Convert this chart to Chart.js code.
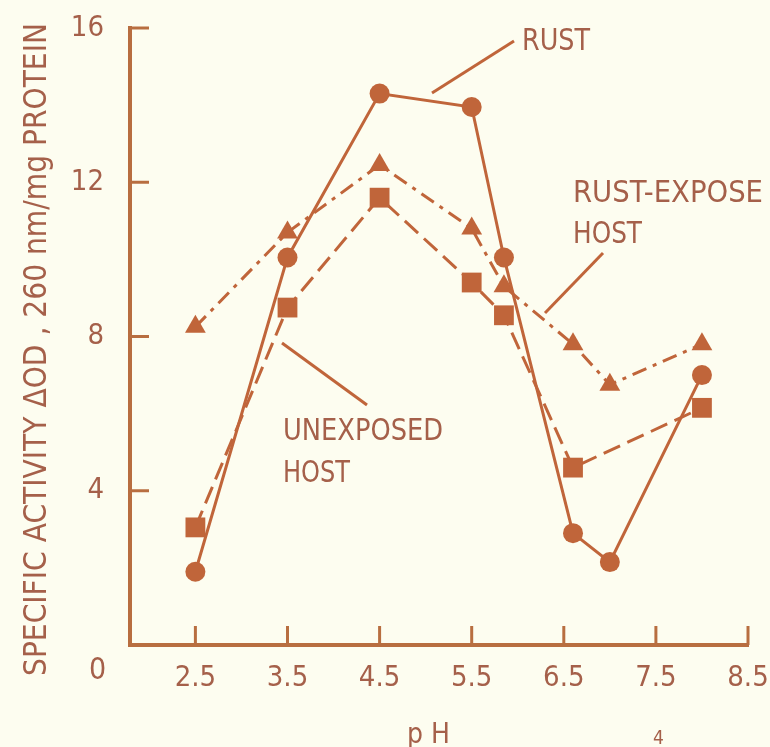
<!DOCTYPE html>
<html>
<head>
<meta charset="utf-8">
<script src="https://cdn.jsdelivr.net/npm/chart.js@4.4.1/dist/chart.umd.min.js"></script>
<style>
  html, body { margin: 0; padding: 0; background: #fdfdf0; }
  #chart { display: block; }
</style>
</head>
<body>
<canvas id="chart" width="770" height="747"></canvas>
<script>
// valeurs
const phTicks = [2.5, 3.5, 4.5, 5.5, 6.5, 7.5, 8.5];
const activityTicks = [0, 4, 8, 12, 16];

const rustPH = [2.5, 3.5, 4.5, 5.5, 5.85, 6.6, 7.0, 8.0];
const rustActivity = [1.9, 10.05, 14.3, 13.95, 10.05, 2.9, 2.15, 7.0];

const exposedPH = [2.5, 3.5, 4.5, 5.5, 5.85, 6.6, 7.0, 8.0];
const exposedActivity = [8.25, 10.7, 12.45, 10.8, 9.3, 7.8, 6.75, 7.8];

const unexposedPH = [2.5, 3.5, 4.5, 5.5, 5.85, 6.6, 8.0];
const unexposedActivity = [3.05, 8.75, 11.6, 9.4, 8.55, 4.6, 6.15];

const INK = "#c0653a";
const AXIS = "#b86e40";
const TEXT = "#a5604a";
const BG = "#fdfdf0";
const FONT = "'Liberation Sans Narrow', 'DejaVu Sans Condensed', 'Open Sans', sans-serif";

function toPoints(xs, ys) {
  return xs.map((x, i) => ({ x: x, y: ys[i] }));
}

// texte étiré / espacé pour tenir dans une largeur donnée
function fitText(ctx, text, x, y, width, size) {
  ctx.save();
  ctx.font = size + "px " + FONT;
  ctx.fillStyle = TEXT;
  ctx.textAlign = "left";
  ctx.textBaseline = "alphabetic";
  const natural = ctx.measureText(text).width;
  const gap = text.length > 1 ? (width - natural) / (text.length - 1) : 0;
  if (gap >= 0 && "letterSpacing" in ctx) {
    ctx.letterSpacing = gap + "px";
    ctx.fillText(text, x, y);
  } else {
    ctx.translate(x, y);
    ctx.scale(width / natural, 1);
    ctx.fillText(text, 0, 0);
  }
  ctx.restore();
}

function line(ctx, x1, y1, x2, y2) {
  ctx.beginPath();
  ctx.moveTo(x1, y1);
  ctx.lineTo(x2, y2);
  ctx.stroke();
}

const decorPlugin = {
  id: "decor",
  beforeDraw(chart) {
    const ctx = chart.ctx;
    ctx.save();
    ctx.fillStyle = BG;
    ctx.fillRect(0, 0, chart.width, chart.height);
    ctx.restore();
  },
  beforeDatasetsDraw(chart) {
    const ctx = chart.ctx;
    const xs = chart.scales.x;
    const ys = chart.scales.y;
    const area = chart.chartArea;
    ctx.save();
    ctx.strokeStyle = AXIS;
    ctx.lineWidth = 3;
    // graduations vers l'intérieur
    activityTicks.forEach((v) => {
      if (v === 0) return;
      const py = ys.getPixelForValue(v);
      line(ctx, area.left, py, area.left + 19, py);
    });
    phTicks.forEach((v) => {
      const px = xs.getPixelForValue(v);
      line(ctx, px, area.bottom, px, area.bottom - 19);
    });
    ctx.restore();
  },
  afterDraw(chart) {
    const ctx = chart.ctx;
    ctx.save();
    // traits de renvoi
    ctx.strokeStyle = INK;
    ctx.lineWidth = 3;
    line(ctx, 514, 41, 432, 93);
    line(ctx, 603, 253, 545, 313);
    line(ctx, 282, 343, 367, 405);
    ctx.restore();

    fitText(ctx, "RUST", 522, 50, 68, 31);
    fitText(ctx, "RUST-EXPOSE", 573, 202, 190, 31);
    fitText(ctx, "HOST", 573, 243, 69, 31);
    fitText(ctx, "UNEXPOSED", 283, 440, 160, 31);
    fitText(ctx, "HOST", 283, 482, 67, 31);
    fitText(ctx, "p H", 407, 743, 43, 28);
    fitText(ctx, "4", 653, 744, 11, 19);
    fitText(ctx, "0", 89, 679, 15, 30);

    // titre de l'axe vertical
    ctx.save();
    ctx.translate(46, 676);
    ctx.rotate(-Math.PI / 2);
    fitText(ctx, "SPECIFIC ACTIVITY \u0394OD , 260 nm/mg PROTEIN", 0, 0, 653, 32);
    ctx.restore();
  },
};

const ctx = document.getElementById("chart").getContext("2d");
new Chart(ctx, {
  type: "line",
  data: {
    datasets: [
      {
        label: "RUST",
        data: toPoints(rustPH, rustActivity),
        borderColor: INK,
        backgroundColor: INK,
        borderWidth: 3,
        pointStyle: "circle",
        pointRadius: 10,
        pointBorderWidth: 0,
        tension: 0,
      },
      {
        label: "RUST-EXPOSE HOST",
        data: toPoints(exposedPH, exposedActivity),
        borderColor: INK,
        backgroundColor: INK,
        borderWidth: 3,
        borderDash: [15, 7, 4, 7],
        pointStyle: "triangle",
        pointRadius: 12,
        pointBorderWidth: 0,
        tension: 0,
      },
      {
        label: "UNEXPOSED HOST",
        data: toPoints(unexposedPH, unexposedActivity),
        borderColor: INK,
        backgroundColor: INK,
        borderWidth: 3,
        borderDash: [18, 8],
        pointStyle: "rect",
        pointRadius: 14,
        pointBorderWidth: 0,
        tension: 0,
      },
    ],
  },
  options: {
    responsive: false,
    animation: false,
    layout: { autoPadding: false, padding: { top: 28, right: 22, left: 0, bottom: 0 } },
    plugins: {
      legend: { display: false },
      tooltip: { enabled: false },
    },
    scales: {
      x: {
        type: "linear",
        min: 1.79,
        max: 8.5,
        afterBuildTicks: (s) => {
          s.ticks = phTicks.map((v) => ({ value: v }));
        },
        afterFit: (s) => {
          s.height = 102;
          s.paddingLeft = 0;
          s.paddingRight = 0;
        },
        grid: { display: false, drawTicks: false },
        border: { display: true, color: AXIS, width: 4 },
        ticks: {
          color: TEXT,
          font: { family: FONT, size: 29 },
          padding: 16,
          autoSkip: false,
          maxRotation: 0,
          callback: (v) => Number(v).toFixed(1),
        },
      },
      y: {
        min: 0,
        max: 16,
        afterBuildTicks: (s) => {
          s.ticks = activityTicks.map((v) => ({ value: v }));
        },
        afterFit: (s) => {
          s.width = 130;
          s.paddingTop = 0;
          s.paddingBottom = 0;
        },
        grid: { display: false, drawTicks: false },
        border: { display: true, color: AXIS, width: 4 },
        ticks: {
          color: TEXT,
          font: { family: FONT, size: 29 },
          padding: 26,
          callback: (v) => (v === 0 ? "" : v),
        },
      },
    },
  },
  plugins: [decorPlugin],
});
</script>
</body>
</html>
